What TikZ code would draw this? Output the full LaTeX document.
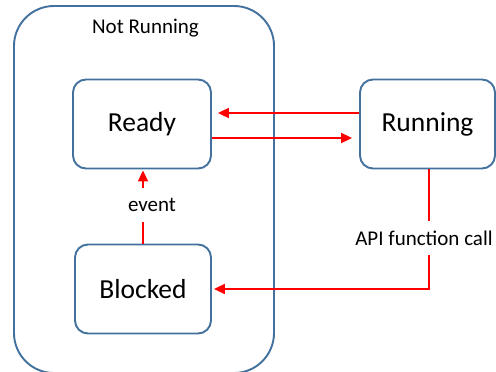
\documentclass[tikz,border=0pt]{standalone}
\usepackage{fontspec}
\setmainfont{Carlito}
\usetikzlibrary{arrows.meta}
\definecolor{boxblue}{HTML}{41719C}
\definecolor{arrred}{HTML}{FF0000}
\begin{document}
\begin{tikzpicture}[x=1pt,y=-1pt,
  state/.style={draw=boxblue,line width=1.9pt,fill=white,rounded corners=13pt,
    minimum width=#1,minimum height=89pt,inner sep=0pt,
    font=\fontsize{27.5}{32}\selectfont},
  state/.default=137pt,
  arr/.style={draw=arrred,line width=2pt,-{Triangle[length=11pt,width=10pt]}},
  lbl/.style={fill=white,inner sep=0pt,minimum height=34pt,font=\fontsize{21}{25}\selectfont}]
\useasboundingbox (0,0) rectangle (496,372);
\clip (0,0) rectangle (496,372);
\fill[white] (0,0) rectangle (496,372);
\draw[boxblue,line width=1.9pt,rounded corners=40pt] (14,6) rectangle (274,373);
\node[anchor=base,font=\fontsize{21}{25}\selectfont] (nr) at (145.5,33) {Not Running};
\node[state=138pt] (ready) at (142,124) {Ready};
\node[state=135pt] (running) at (427.5,124) {Running};
\node[state=136pt] (blocked) at (143,289) {Blocked};
\draw[arr,shorten >=6pt] ([yshift=11pt]running.west) -- ([yshift=11pt]ready.east);
\draw[arr,shorten >=7pt] ([yshift=-14pt]ready.east) -- ([yshift=-14pt]running.west);
\draw[arr,shorten >=1pt] (blocked.north) -- (blocked.north |- ready.south);
\draw[arr,shorten >=2pt] ([xshift=1.5pt]running.south) |- (blocked.east);
\node[lbl,minimum width=76pt] (ev) at (152,205) {event};
\node[lbl,minimum width=148pt] (api) at (424,238) {API function call};
\end{tikzpicture}
\end{document}
